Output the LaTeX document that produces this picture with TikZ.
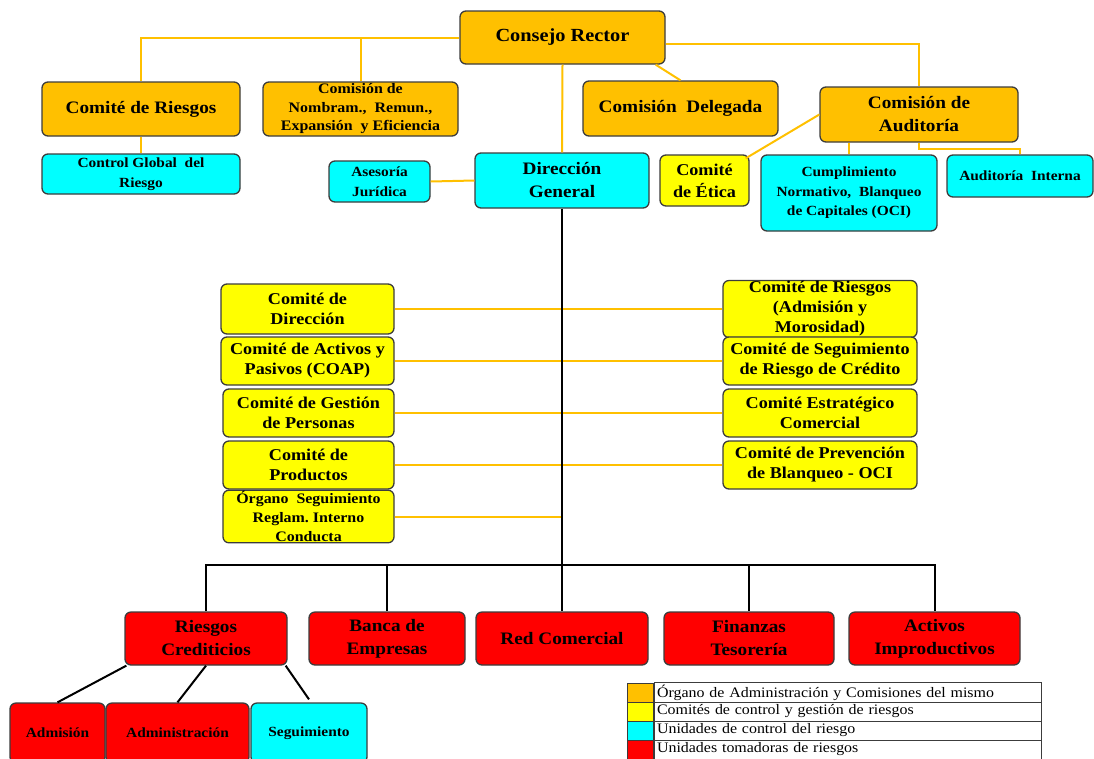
\documentclass[tikz,border=0pt]{standalone}
\usepackage{fontspec}
\setmainfont{Liberation Serif}[FakeStretch=1.1]
\definecolor{org}{HTML}{FFC000}
\definecolor{yel}{HTML}{FFFF00}
\definecolor{cya}{HTML}{00FFFF}
\definecolor{rd}{HTML}{FF0000}
\definecolor{bordc}{HTML}{3C3C3C}
\tikzset{
  box/.style={draw=bordc, line width=1.3pt, rounded corners=6pt, align=center, inner sep=1pt, text=black},
  ob/.style={box, fill=org},
  yb/.style={box, fill=yel},
  cb/.style={box, fill=cya},
  rb/.style={box, fill=rd},
  fbig/.style={font=\fontsize{17.5}{23}\selectfont\bfseries},
  fmid/.style={font=\fontsize{16.5}{20}\selectfont\bfseries},
  fsm/.style={font=\fontsize{14}{19.5}\selectfont\bfseries},
  yl/.style={draw=org, line width=2pt},
  bl/.style={draw=black, line width=2pt},
  lgc/.style={draw=bordc, line width=1pt, minimum width=26pt, minimum height=19pt, inner sep=0pt},
  lgt/.style={draw=bordc, line width=1pt, minimum width=387pt, minimum height=19pt, inner sep=2pt, text width=381pt, align=left, font=\fontsize{14.5}{15}\selectfont},
}
\begin{document}
\begin{tikzpicture}[x=1pt,y=-1pt]
\useasboundingbox (0,0) rectangle (1094,758);
% top boxes
\node[ob,font=\fontsize{18.5}{23}\selectfont\bfseries,minimum width=205pt,minimum height=53pt] (cons) at (562.5,37.5) {Consejo Rector};
\node[ob,fbig,minimum width=198pt,minimum height=54pt] (cr) at (141,109) {Comité de Riesgos};
\node[ob,font=\fontsize{14.5}{18.5}\selectfont\bfseries,minimum width=195pt,minimum height=54pt] (nom) at (360.5,109) {Comisión de\\Nombram.,\ \ Remun.,\\Expansión\ \ y Eficiencia};
\node[ob,fbig,minimum width=195pt,minimum height=55pt] (del) at (680.5,108.5) {Comisión\ \ Delegada};
\node[ob,fbig,minimum width=198pt,minimum height=55pt] (aud) at (919,114.5) {Comisión de\\Auditoría};
\node[cb,fsm,minimum width=198pt,minimum height=40pt] (cgr) at (141,174) {Control\ Global\ \ del\\Riesgo};
\node[cb,fsm,minimum width=101pt,minimum height=41pt] (ase) at (379.5,181.5) {Asesoría\\Jurídica};
\node[cb,fbig,minimum width=174pt,minimum height=55pt] (dg) at (562,180.5) {Dirección\\General};
\node[yb,font=\fontsize{16.5}{22}\selectfont\bfseries,minimum width=89pt,minimum height=51pt] (eti) at (704.5,180.5) {Comité\\de Ética};
\node[cb,fsm,minimum width=176pt,minimum height=76pt] (cum) at (849,193) {Cumplimiento\\Normativo,\ \ Blanqueo\\de Capitales (OCI)};
\node[cb,fsm,minimum width=146pt,minimum height=42pt] (ain) at (1020,176) {Auditoría\ \ Interna};
% committees
\node[yb,fmid,minimum width=173pt,minimum height=50pt] (l1) at (307.5,309) {Comité de\\Dirección};
\node[yb,fmid,minimum width=173pt,minimum height=48pt] (l2) at (307.5,361) {Comité de Activos y\\Pasivos (COAP)};
\node[yb,fmid,minimum width=171pt,minimum height=48pt] (l3) at (308.5,413) {Comité de Gestión\\de Personas};
\node[yb,fmid,minimum width=171pt,minimum height=48pt] (l4) at (308.5,465) {Comité de\\Productos};
\node[yb,font=\fontsize{14.5}{19}\selectfont\bfseries,minimum width=171pt,minimum height=49pt] (l5) at (308.5,516.5) {Órgano\ \ Seguimiento\\Reglam.\ Interno\\Conducta};
\node[yb,fmid,minimum width=194pt,minimum height=50pt] (r1) at (820,309) {Comité de Riesgos\\(Admisión y\\Morosidad)};
\node[yb,fmid,minimum width=194pt,minimum height=48pt] (r2) at (820,361) {Comité de Seguimiento\\de Riesgo de Crédito};
\node[yb,fmid,minimum width=194pt,minimum height=48pt] (r3) at (820,413) {Comité Estratégico\\Comercial};
\node[yb,fmid,minimum width=194pt,minimum height=48pt] (r4) at (820,465) {Comité de Prevención\\de Blanqueo - OCI};
% red units
\node[rb,fbig,minimum width=162pt,minimum height=53pt] (rc) at (206,638.5) {Riesgos\\Crediticios};
\node[rb,fbig,minimum width=156pt,minimum height=53pt] (be) at (387,638.5) {Banca de\\Empresas};
\node[rb,fbig,minimum width=172pt,minimum height=53pt] (rco) at (562,638.5) {Red Comercial};
\node[rb,fbig,minimum width=170pt,minimum height=53pt] (fin) at (749,638.5) {Finanzas\\Tesorería};
\node[rb,fbig,minimum width=171pt,minimum height=53pt] (act) at (934.5,638.5) {Activos\\Improductivos};
\node[rb,fsm,minimum width=95pt,minimum height=60pt] (adm) at (57.5,733) {Admisión};
\node[rb,fsm,minimum width=143pt,minimum height=60pt] (admi) at (177.5,733) {Administración};
\node[cb,fsm,minimum width=116pt,minimum height=60pt] (seg) at (309,733) {Seguimiento};
% yellow connectors
\draw[yl] (cons.west) -| (cr.north);
\draw[yl] (cons.west -| nom.north) -- (nom.north);
\draw[yl] (cr.south) -- (cgr.north);
\draw[yl] (cons.south) -- (dg.north);
\draw[yl] ([xshift=-10pt]cons.south east) -- (del.north);
\draw[yl] ([yshift=-6pt]cons.east) -| (aud.north);
\draw[yl] (aud.west) -- ([xshift=-4pt,yshift=-4pt]eti.north east);
\draw[yl] (aud.south -| cum.north) -- (cum.north);
\draw[yl] (aud.south) -- ++(0,6) -| (ain.north);
\draw[yl] (ase.east) -- (dg.west);
\draw[yl] (l1.east) -- (r1.west);
\draw[yl] (l2.east) -- (r2.west);
\draw[yl] (l3.east) -- (r3.west);
\draw[yl] (l4.east) -- (r4.west);
\coordinate (bus) at (562,565);
\draw[yl] (l5.east) -- (l5.east -| bus);
% black connectors
\draw[bl] (dg.south) -- (bus);
\draw[bl] (rc.north) -- (rc.north |- bus) -- (act.north |- bus) -- (act.north);
\draw[bl] (be.north |- bus) -- (be.north);
\draw[bl] (rco.north |- bus) -- (rco.north);
\draw[bl] (fin.north |- bus) -- (fin.north);
\draw[bl] ([xshift=2pt]rc.south west) -- (adm.north);
\draw[bl] (rc.south) -- (admi.north);
\draw[bl] ([xshift=-2pt]rc.south east) -- ([yshift=3pt]seg.north);
% legend
\node[lgc,fill=org] (s1) at (640,692.5) {};
\node[lgc,fill=yel] (s2) at (640,711.5) {};
\node[lgc,fill=cya] (s3) at (640,730.5) {};
\node[lgc,fill=rd] (s4) at (640,749.5) {};
\node[lgt,anchor=west] (t1) at (s1.east) {Órgano de Administración y Comisiones\ del mismo};
\node[lgt,anchor=west] (t2) at (s2.east) {Comités\ de control y gestión de riesgos};
\node[lgt,anchor=west] (t3) at (s3.east) {Unidades de control del riesgo};
\node[lgt,anchor=west] (t4) at (s4.east) {Unidades tomadoras de riesgos};
\end{tikzpicture}
\end{document}
